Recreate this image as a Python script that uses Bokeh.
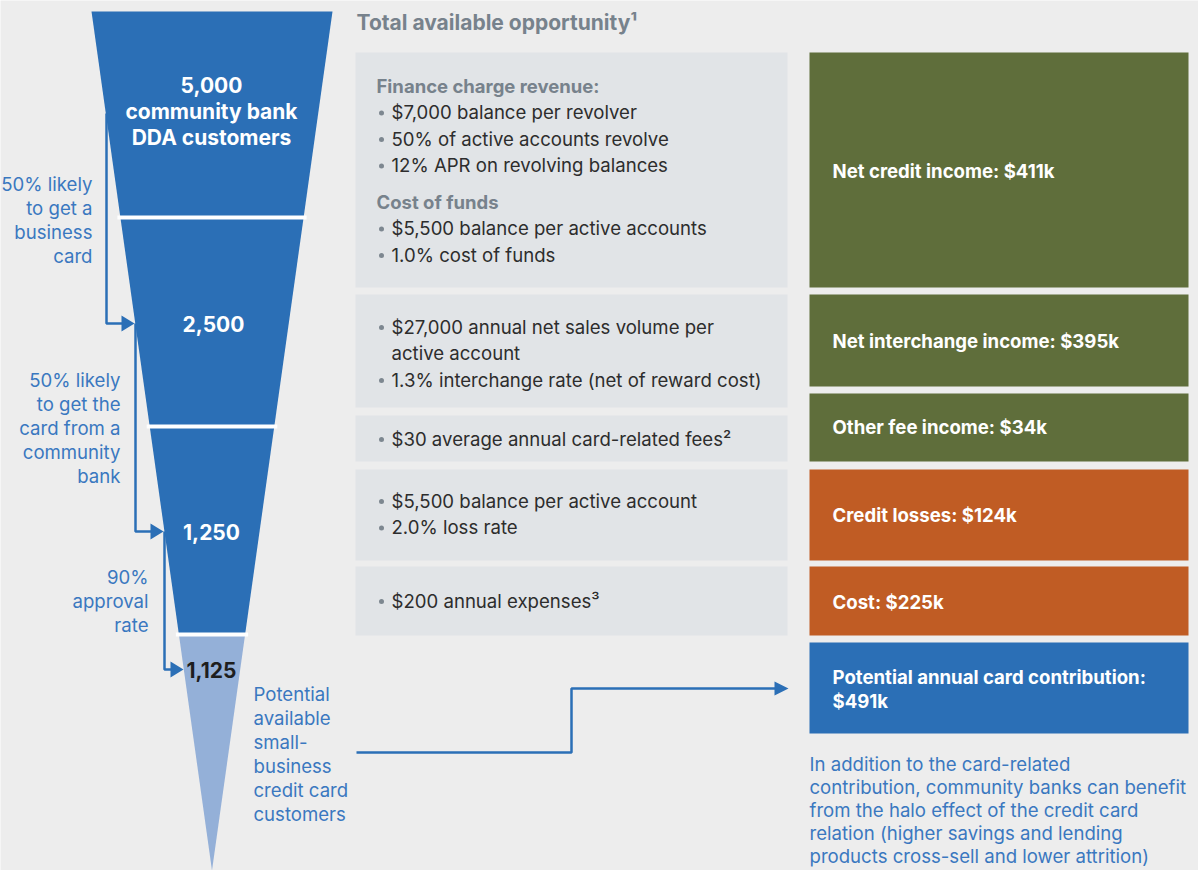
from bokeh.plotting import figure
from bokeh.models import Range1d
from bokeh.embed import file_html
from bokeh.resources import INLINE
from bokeh.core.properties import value

# ---------------- data ----------------
stage_counts = [5000, 2500, 1250, 1125]
stage_names = ["community bank\nDDA customers", "", "", ""]
step_labels = [
    ["50% likely", "to get a", "business", "card"],
    ["50% likely", "to get the", "card from a", "community", "bank"],
    ["90%", "approval", "rate"],
]
potential_label = ["Potential", "available", "small-", "business", "credit card", "customers"]

title = "Total available opportunity\u00b9"
driver_blocks = [
    [("h", "Finance charge revenue:"), ("b", "$7,000 balance per revolver"),
     ("b", "50% of active accounts revolve"), ("b", "12% APR on revolving balances"),
     ("h", "Cost of funds"), ("b", "$5,500 balance per active accounts"),
     ("b", "1.0% cost of funds")],
    [("b", "$27,000 annual net sales volume per"), ("c", "active account"),
     ("b", "1.3% interchange rate (net of reward cost)")],
    [("b", "$30 average annual card-related fees\u00b2")],
    [("b", "$5,500 balance per active account"), ("b", "2.0% loss rate")],
    [("b", "$200 annual expenses\u00b3")],
]
result_names = ["Net credit income", "Net interchange income", "Other fee income",
                "Credit losses", "Cost", "Potential annual card contribution"]
result_values_k = [411, 395, 34, -124, -225, 491]
note_lines = [
    "In addition to the card-related",
    "contribution, community banks can benefit",
    "from the halo effect of the credit card",
    "relation (higher savings and lending",
    "products cross-sell and lower attrition)",
]

# ---------------- styles ----------------
BG = "#ededed"
BLUE = "#2b6fb6"
LIGHT = "#94b0d8"
PANEL = "#e1e4e7"
GREEN = "#5f6e3b"
ORANGE = "#c05c24"
TXTBLUE = "#3a78c0"
GREYHEAD = "#77828c"
DARK = "#2d2d2d"
FONT = value("Inter")
BODY = 18.6

p = figure(width=1198, height=870, x_range=Range1d(0, 1198), y_range=Range1d(870, 0),
           output_backend="svg", toolbar_location=None, min_border=0,
           background_fill_color=BG, border_fill_color=BG, outline_line_color=None)
p.axis.visible = False
p.grid.visible = False

def txt(x, y, s, size=BODY, color=DARK, bold=False, align="left"):
    p.text(x=[x], y=[y], text=[s], text_font=FONT, text_font_size=f"{size}px",
           text_color=color, text_font_style="bold" if bold else "normal",
           text_align=align, text_baseline="middle")

# ---------------- funnel ----------------
TOP, APEX = 11, 870
XL, XR, XA = 91, 332, 211.5
bounds = [TOP, 217, 426, 634, APEX]

def left(y):
    return XL + (y - TOP) * (XA - XL) / (APEX - TOP)

def right(y):
    return XR - (y - TOP) * (XR - XA) / (APEX - TOP)

for i, cnt in enumerate(stage_counts):
    y0, y1 = bounds[i], bounds[i + 1]
    xs = [left(y0), right(y0), right(y1), left(y1)]
    ys = [y0, y0, y1, y1]
    p.patch(xs, ys, fill_color=BLUE if i < 3 else LIGHT, line_color=None)
for y in bounds[1:4]:
    p.segment(x0=[left(y) - 3], x1=[right(y) + 3], y0=[y], y1=[y],
              line_color="white", line_width=4)

# funnel labels
label_y = [84, 323, 531, 669]
for i, cnt in enumerate(stage_counts):
    lines = [f"{cnt:,}"] + [s for s in stage_names[i].split("\n") if s]
    for j, s in enumerate(lines):
        txt(211 if i != 1 else 213, label_y[i] + j * 26.5, s, size=21,
            color="white" if i < 3 else "#1e1e1e", bold=True, align="center")

# step connectors
conn = [(106, 113, 323, 134), (135, 323, 531, 163), (164, 531, 669, 183)]
label_right = [92, 120, 148]
label_top = [183, 379, 576]
for k, (x, ya, yb, tip) in enumerate(conn):
    p.line([x, x, tip - 11], [ya, yb, yb], line_color=BLUE, line_width=2.5)
    p.patch([tip - 13, tip, tip - 13], [yb - 8, yb, yb + 8], fill_color=BLUE, line_color=None)
    for j, s in enumerate(step_labels[k]):
        txt(label_right[k], label_top[k] + j * 24, s, color=TXTBLUE, align="right")

for j, s in enumerate(potential_label):
    txt(253, 693 + j * 24, s, color=TXTBLUE)

# connector to contribution box
p.line([356, 571, 571, 775], [752, 752, 688, 688], line_color=BLUE, line_width=2.5)
p.patch([774, 788, 774], [681, 688, 695], fill_color=BLUE, line_color=None)

# ---------------- drivers ----------------
txt(356, 22, title, size=21, color=GREYHEAD, bold=True)
panel_y = [(52, 287), (294, 407), (415, 461), (469, 560), (566, 635)]
panel_first = [85, 326, 438, 500, 600]
for (y0, y1), block, fy in zip(panel_y, driver_blocks, panel_first):
    p.quad(left=[355], right=[787], top=[y0], bottom=[y1], fill_color=PANEL, line_color=None)
    y = fy
    prev = None
    for kind, s in block:
        if kind == "h":
            if prev is not None:
                y += 10
            txt(376, y, s, size=18.5, color=GREYHEAD, bold=True)
        else:
            if kind == "b":
                p.scatter(x=[381], y=[y + 1], size=5, marker="circle",
                          fill_color="#7d8790", line_color=None)
            txt(391, y, s, color=DARK)
        y += 26.5
        prev = kind

# ---------------- results ----------------
res_y = [(52, 287), (294, 386), (393, 461), (469, 560), (566, 635), (642, 733)]
res_text_y = [170, 340, 426, 514, 601, 676]
for k, (name, v) in enumerate(zip(result_names, result_values_k)):
    y0, y1 = res_y[k]
    col = GREEN if v > 0 else ORANGE
    if k == len(result_names) - 1:
        col = BLUE
    p.quad(left=[809], right=[1188], top=[y0], bottom=[y1], fill_color=col, line_color=None)
    amount = f"${abs(v)}k"
    if k == len(result_names) - 1:
        txt(832, res_text_y[k], name + ":", size=18.6, color="white", bold=True)
        txt(832, res_text_y[k] + 24, amount, size=18.6, color="white", bold=True)
    else:
        txt(832, res_text_y[k], f"{name}: {amount}", size=18.6, color="white", bold=True)

for j, s in enumerate(note_lines):
    txt(809, 763 + j * 23.2, s, color=TXTBLUE)

html = file_html(p, INLINE)
html = html.replace("<body>", '<body style="background:%s">' % BG, 1)
open("out.html", "w").write(html)
